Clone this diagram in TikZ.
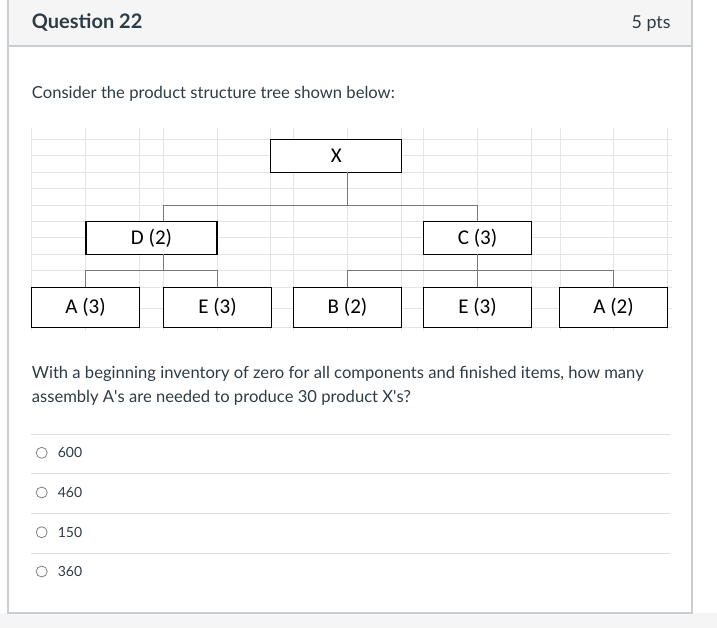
\documentclass[tikz,border=0pt]{standalone}
\usepackage{fontspec}
\setmainfont{Lato}
\newfontfamily\sheetfont{Carlito}
\usetikzlibrary{positioning}
\definecolor{inktext}{HTML}{2D3B45}
\definecolor{cardline}{HTML}{C7CDD1}
\definecolor{headfill}{HTML}{F5F5F5}
\definecolor{gridgray}{HTML}{E4E4E4}
\definecolor{linkgray}{HTML}{787878}
\definecolor{rulegray}{HTML}{DDE0E2}
\tikzstyle{part} = [rectangle, draw=black, line width=1.2pt, fill=white, minimum width=131pt, minimum height=33pt, inner sep=0pt, outer sep=0pt, font=\sheetfont\fontsize{21}{21}\selectfont]
\tikzstyle{leaf} = [part, minimum width=108pt, minimum height=40pt]
\tikzstyle{link} = [draw=linkgray, line width=1pt]
\tikzstyle{prose} = [anchor=base west, inner sep=0pt, text=inktext, font=\fontsize{16.6}{20}\selectfont]
\tikzstyle{choice} = [inner sep=0pt, text=inktext, font=\fontsize{14}{17}\selectfont]
\tikzstyle{radio} = [circle, draw=gray, line width=0.8pt, minimum size=11pt, inner sep=0pt]

\begin{document}
\begin{tikzpicture}[x=1pt, y=-1pt]
        \useasboundingbox (0,0) rectangle (717,628);
        % card and header
        \fill[headfill] (0,613) rectangle (717,628);
        \fill[headfill] (8,0) rectangle (692,46);
        \draw[cardline, line width=1.5pt] (8,0) -- (8,613) -- (692,613) -- (692,0);
        \draw[cardline, line width=1.5pt] (8,46) -- (692,46);

        \node[prose, font=\bfseries\fontsize{20}{24}\selectfont] (qtitle) at (31.7,29) {Question 22};
        \node[prose, anchor=base east, font=\fontsize{17.8}{21}\selectfont] (qpts) at (670.7,29) {5 pts};
        \node[prose] (intro) at (31.7,98.3) {Consider the product structure tree shown below:};

        % sheet grid
        \foreach \gx in {31.7,85.7,139.3,163.3,217.3,270.7,293.3,347.3,401.7,423.3,477.3,531.7,560,613.3,667.7}
            \draw[gridgray, line width=0.8pt] (\gx,128) -- (\gx,331);
        \foreach \gy in {139.3,155.7,172.2,188.6,205.1,221.5,237.9,254.4,270.8,287.3,308.3,327.3}
            \draw[gridgray, line width=0.8pt] (31,\gy) -- (672,\gy);

        \node[part]                    (X)   at (336.2,155.8) {X};
        \node[part]                    (D)   at (151.5,237.9) {D (2)};
        \node[leaf]                    (A3)  at (85.5,307.3)  {A (3)};
        \node[leaf, right=24pt of A3]  (E3a)                  {E (3)};
        \node[leaf, right=22pt of E3a] (B)                    {B (2)};
        \node[leaf, right=22pt of B]   (E3b)                  {E (3)};
        \node[leaf, right=28pt of E3b] (A2)                   {A (2)};
        \node[part, minimum width=108pt, above=33pt of E3b] (C) {C (3)};

        \coordinate (xbus) at (347.3,205.1);
        \coordinate (dbus) at (163.3,270.8);
        \coordinate (cbus) at (477.5,270.8);

        \draw[link] (X.south -| xbus) -- (xbus);
        \draw[link] (D.north -| dbus) |- (xbus) -| (C.north);
        \draw[link] (D.south -| dbus) -- (dbus);
        \draw[link] (A3.north) |- (dbus) -| (E3a.north);
        \draw[link] (C.south) -- (E3b.north);
        \draw[link] (B.north) |- (cbus) -| (A2.north);

        \node[prose] (ask1) at (31.7,378) {With a beginning inventory of zero for all components and finished items, how many};
        \node[prose] (ask2) at (31.7,402) {assembly A\textquotesingle s are needed to produce 30 product X\textquotesingle s?};

        % answer choices
        \foreach \ry in {434,473.3,513.5,553.3}
            \draw[rulegray, line width=1pt] (31,\ry) -- (670,\ry);
        \foreach \val/\cy in {600/452.8, 460/492.5, 150/532.2, 360/571.5} {
            \node[radio] (radio\val) at (41.7,\cy) {};
            \node[choice, right=10pt of radio\val] (opt\val) {\val};
        }
\end{tikzpicture}
\end{document}
